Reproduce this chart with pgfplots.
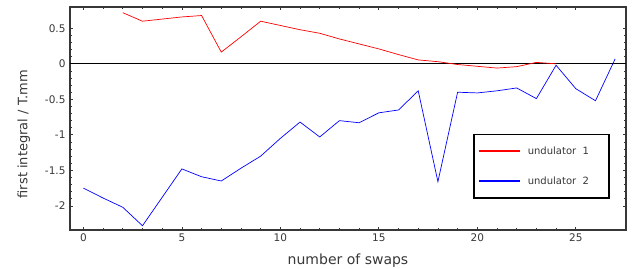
\documentclass[border=0pt]{standalone}
\usepackage{pgfplots}
\pgfplotsset{compat=1.18}
\usepackage{fontspec}
\setmainfont{DejaVu Sans}
\definecolor{axgray}{RGB}{55,55,55}
\pgfplotsset{mylegend/.style={legend image code/.code={\draw[##1, line width=1.8pt] (0pt,0pt) -- (41pt,0pt);}}}
\begin{document}
\begin{tikzpicture}[x=1pt,y=1pt]
\useasboundingbox (-70,-38) rectangle (562,230);
\begin{axis}[
  at={(0,0)}, anchor=south west,
  scale only axis, width=556pt, height=223pt,
  xmin=-0.68, xmax=27.55, ymin=-2.34, ymax=0.80,
  xtick={0,5,...,25}, ytick={-2,-1.5,...,0.5},
  minor x tick num=4, minor y tick num=4,
  tick align=inside, xtick pos=both, ytick pos=both,
  axis line style={axgray, line width=1.1pt},
  every tick/.style={axgray, line width=0.7pt},
  major tick length=3.5pt, minor tick length=2.5pt,
  tick label style={font=\fontsize{10.5}{12}\selectfont, text=axgray},
  /pgf/number format/assume math mode=true,
  yticklabel style={xshift=-1pt},
  xlabel={number of swaps}, ylabel={first integral / T.mm},
  xlabel style={font=\fontsize{14}{16}\selectfont, text=axgray, yshift=-6pt},
  ylabel style={font=\fontsize{13}{15}\selectfont, text=axgray, at={(ticklabel cs:0.43)}, yshift=8pt},
  legend style={at={(0.725,0.432)}, anchor=north west, draw=black, line width=1.8pt,
    inner xsep=4pt, inner ysep=10pt, row sep=17pt,
    font=\fontsize{10}{12}\selectfont, text=axgray,
    nodes={inner sep=2pt}},
  legend cell align=left,
]
\addplot[black, line width=0.8pt, forget plot] coordinates {(-0.68,0) (27.55,0)};
\addplot[red, line width=0.7pt, mylegend] coordinates {
(2,0.72) (3,0.60) (4,0.63) (5,0.66) (6,0.68) (7,0.165) (8,0.38) (9,0.60)
(10,0.54) (11,0.48) (12,0.43) (13,0.35) (14,0.28) (15,0.21) (16,0.13)
(17,0.055) (18,0.03) (19,-0.01) (20,-0.035) (21,-0.06) (22,-0.04) (23,0.02) (24,0.0)};
\addlegendentry{\makebox[80pt][l]{\hspace{5pt}undulator\ \ 1}}
\addplot[blue, line width=0.7pt, mylegend] coordinates {
(0,-1.75) (1,-1.89) (2,-2.02) (3,-2.28) (4,-1.88) (5,-1.48) (6,-1.59) (7,-1.65)
(8,-1.47) (9,-1.30) (10,-1.05) (11,-0.82) (12,-1.03) (13,-0.80) (14,-0.83)
(15,-0.69) (16,-0.65) (17,-0.38) (18,-1.66) (19,-0.40) (20,-0.41) (21,-0.38)
(22,-0.34) (23,-0.49) (24,-0.02) (25,-0.35) (26,-0.52) (27,0.07)};
\addlegendentry{\makebox[80pt][l]{\hspace{5pt}undulator\ \ 2}}
\end{axis}
\end{tikzpicture}
\end{document}
